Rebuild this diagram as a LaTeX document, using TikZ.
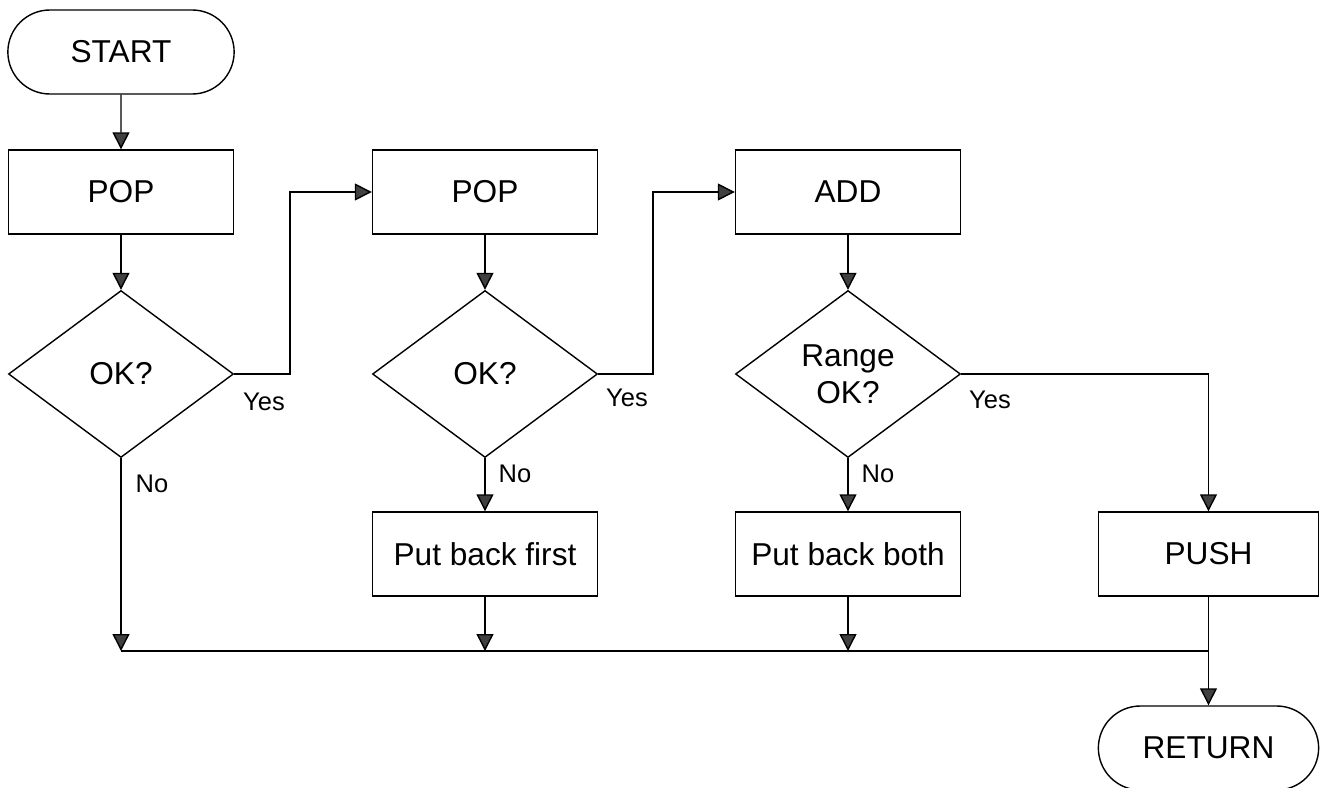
\documentclass[tikz,border=0pt]{standalone}
\usepackage{fontspec}
\setmainfont{Liberation Sans}
\usetikzlibrary{arrows.meta, shapes.geometric, shapes.misc}
\tikzset{%
	flowbox/.style={
		rectangle,
		draw,
		line width=0.8pt,
		minimum width=4.5cm,
		minimum height=1.68cm,
		font=\fontsize{18}{21}\selectfont
	},
	terminal/.style={
		rounded rectangle,
		draw,
		line width=0.8pt,
		minimum width=4.76cm,
		minimum height=1.68cm,
		font=\fontsize{18}{21}\selectfont
	},
	decision/.style={
		diamond,
		draw,
		line width=0.8pt,
		minimum width=4.5cm,
		minimum height=3.34cm,
		inner sep=0pt,
		align=center,
		font=\fontsize{18}{21}\selectfont
	},
	answer/.style={
		font=\fontsize{14.5}{16}\selectfont
	},
	flow/.style={
		line width=0.8pt,
		-{Triangle[length=0.34cm, width=0.34cm, fill=black!75]}
	},
	wire/.style={
		line width=0.8pt
	},
}
\begin{document}
\begin{tikzpicture}
			\useasboundingbox (0,0) rectangle (26.4,-15.76);
			
			% Left column: first pop
			\node[terminal] (start) at (2.42,-1.04) {START};
			\node[flowbox] (pop1) at (2.42,-3.84) {POP};
			\node[decision] (ok1) at (2.42,-7.48) {OK?};
			
			% Middle column: second pop
			\node[flowbox] (pop2) at (9.70,-3.84) {POP};
			\node[decision] (ok2) at (9.70,-7.48) {OK?};
			\node[flowbox] (back1) at (9.70,-11.08) {Put back first};
			
			% Third column: add and range check
			\node[decision] (range) at (16.96,-7.48) {Range\\OK?};
			\node[flowbox] (add) at (16.96,-3.84) {ADD};
			\node[flowbox] (back2) at (16.96,-11.08) {Put back both};
			
			% Right column
			\node[flowbox, minimum width=4.4cm] (push) at (24.17,-11.08) {PUSH};
			\node[terminal, minimum width=4.64cm] (ret) at (24.17,-14.96) {RETURN};
			
			% Yes / No labels
			\node[answer] (yes1) at (5.28,-8.04) {Yes};
			\node[answer] (yes2) at (12.54,-7.96) {Yes};
			\node[answer] (yes3) at (19.80,-8.00) {Yes};
			\node[answer] (no1) at (3.04,-9.68) {No};
			\node[answer] (no2) at (10.30,-9.48) {No};
			\node[answer] (no3) at (17.56,-9.48) {No};
			
			% Bends and the joining line
			\coordinate (bend1) at (5.80,-7.48);
			\coordinate (bend2) at (13.06,-7.48);
			\coordinate (j1) at (2.42,-13.02);
			\coordinate (j2) at (9.70,-13.02);
			\coordinate (j3) at (16.96,-13.02);
			\coordinate (j4) at (24.17,-13.02);
			
			% Draw arrows down the left column
			\draw[flow] (start) -- (pop1);
			\draw[flow] (pop1) -- (ok1);
			\draw[flow] (ok1.east) -- (bend1) |- (pop2.west);
			\draw[flow] (ok1.south) -- (j1);
			
			% Middle column arrows
			\draw[flow] (pop2) -- (ok2);
			\draw[flow] (ok2.east) -- (bend2) |- (add.west);
			\draw[flow] (ok2.south) -- (back1.north);
			\draw[flow] (back1.south) -- (j2);
			
			% Third column arrows
			\draw[flow] (add) -- (range);
			\draw[flow] (range.east) -| (push.north);
			\draw[flow] (range.south) -- (back2.north);
			\draw[flow] (back2.south) -- (j3);
			
			% Join everything and return
			\draw[wire] (j1) -- (j4);
			\draw[flow] (push.south) -- (ret.north);
			
		\end{tikzpicture}
\end{document}
